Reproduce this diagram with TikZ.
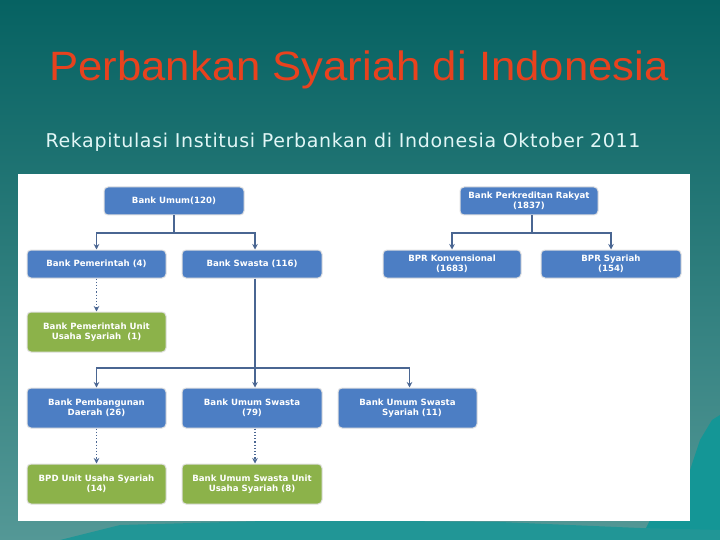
\documentclass[tikz,border=0pt]{standalone}
\usepackage{fontspec}
\setmainfont{DejaVu Sans}
\newfontfamily\titlefont{Liberation Sans}
\newfontfamily\subfont[LetterSpace=3.5]{DejaVu Sans}
\usetikzlibrary{arrows.meta}
\definecolor{bgtop}{RGB}{6,98,98}
\definecolor{bgbot}{RGB}{84,152,150}
\definecolor{titlered}{RGB}{232,66,30}
\definecolor{subc}{RGB}{225,246,246}
\definecolor{boxblue}{RGB}{76,126,196}
\definecolor{boxgreen}{RGB}{140,178,74}
\definecolor{linec}{RGB}{74,102,146}
\definecolor{mount}{RGB}{20,150,150}
\tikzset{
  bx/.style={rounded corners=4pt, draw=black!12, line width=1pt, text=white,
    font=\fontsize{8.6}{10.5}\selectfont\bfseries, align=center, inner sep=0pt},
  bluebox/.style={bx, fill=boxblue},
  greenbox/.style={bx, fill=boxgreen},
  conn/.style={draw=linec, line width=1.2pt},
  arr/.style={conn, -{Stealth[length=5.5pt,width=5.5pt]}},
  dotarr/.style={draw=linec, line width=1.2pt, dotted, -{Stealth[length=5.5pt,width=5.5pt]}},
}
\begin{document}
\begin{tikzpicture}[x=1pt,y=-1pt]
\useasboundingbox (0,0) rectangle (720,540);
\shade[top color=bgtop, bottom color=bgbot] (0,0) rectangle (720,540);
% decorative mountain bottom right
\fill[mount] (640,540) -- (660,500) -- (690,470) -- (700,440) -- (712,420) -- (720,415) -- (720,540) -- cycle;
\fill[mount!80!bgbot] (60,540) -- (120,525) -- (300,520) -- (500,522) -- (640,528) -- (720,530) -- (720,540) -- cycle;
% title
\node[font=\titlefont\fontsize{41}{46}\selectfont, text=titlered, xscale=1.065] (title) at (359,70) {Perbankan Syariah di Indonesia};
\node[font=\subfont\fontsize{19}{23}\selectfont, text=subc, anchor=west] (sub) at (42,142) {Rekapitulasi Institusi Perbankan di Indonesia Oktober 2011};
% white panel
\fill[white] (18,174) rectangle (690,521);
% boxes
\node[bluebox, minimum width=140pt, minimum height=28pt] (bu) at (174,201) {Bank Umum(120)};
\node[bluebox, minimum width=138pt, minimum height=28pt] (bpr) at (529,201) {Bank Perkreditan Rakyat\\(1837)};
\node[bluebox, minimum width=139pt, minimum height=28pt] (bp) at (96.5,264) {Bank Pemerintah (4)};
\node[bluebox, minimum width=140pt, minimum height=28pt] (bs) at (252,264) {Bank Swasta (116)};
\node[bluebox, minimum width=138pt, minimum height=28pt] (bk) at (452,264) {BPR Konvensional\\(1683)};
\node[bluebox, minimum width=140pt, minimum height=28pt] (bsy) at (611,264) {BPR Syariah\\(154)};
\node[greenbox, minimum width=139pt, minimum height=40pt] (bpu) at (96.5,332) {Bank Pemerintah Unit\\Usaha Syariah\ \ (1)};
\node[bluebox, minimum width=139pt, minimum height=40pt] (bpd) at (96.5,408) {Bank Pembangunan\\Daerah (26)};
\node[bluebox, minimum width=140pt, minimum height=40pt] (bus) at (252,408) {Bank Umum Swasta\\(79)};
\node[bluebox, minimum width=139pt, minimum height=40pt] (buss) at (407.5,408) {Bank Umum Swasta\\\ \ \ Syariah (11)};
\node[greenbox, minimum width=139pt, minimum height=40pt] (bpdu) at (96.5,484) {BPD Unit Usaha Syariah\\(14)};
\node[greenbox, minimum width=140pt, minimum height=40pt] (busu) at (252,484) {Bank Umum Swasta Unit\\Usaha Syariah (8)};
% connectors
\coordinate (j1) at (174,233);
\draw[conn] (bu.south) -- (j1);
\draw[arr] (j1) -| (bp.north);
\draw[arr] (j1) -| ([xshift=3pt]bs.north);
\coordinate (j2) at (532,233);
\draw[conn] ([xshift=3pt]bpr.south) -- (j2);
\draw[arr] (j2) -| (bk.north);
\draw[arr] (j2) -| (bsy.north);
\draw[dotarr] (bp.south) -- (bpu.north);
\coordinate (j3) at (255,368);
\draw[arr] ([xshift=3pt]bs.south) -- ([xshift=3pt]bus.north);
\draw[arr] (j3) -| (bpd.north);
\draw[arr] (j3) -| ([xshift=2pt]buss.north);
\draw[dotarr] (bpd.south) -- (bpdu.north);
\draw[dotarr] ([xshift=3pt]bus.south) -- ([xshift=3pt]busu.north);
\end{tikzpicture}
\end{document}
